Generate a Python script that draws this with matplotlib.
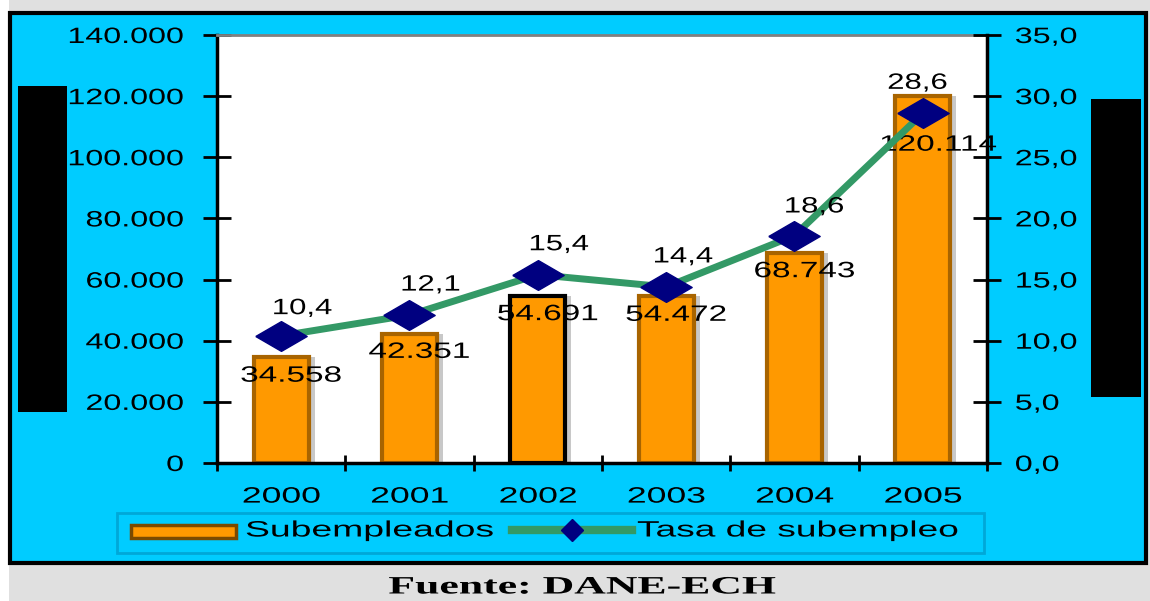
import numpy as np
import matplotlib
matplotlib.use('Agg')
import matplotlib.pyplot as plt
from matplotlib.patches import Rectangle
from matplotlib.lines import Line2D
from matplotlib.patheffects import AbstractPathEffect
from matplotlib.transforms import Affine2D

# data
years = ['2000', '2001', '2002', '2003', '2004', '2005']
subempleados = [34558, 42351, 54691, 54472, 68743, 120114]
tasa = [10.4, 12.1, 15.4, 14.4, 18.6, 28.6]
bar_labels = ['34.558', '42.351', '54.691', '54.472', '68.743', '120.114']
tasa_labels = ['10,4', '12,1', '15,4', '14,4', '18,6', '28,6']

plt.rcParams['font.family'] = ['Liberation Sans', 'DejaVu Sans']
fs = 16

cyan = '#00CCFF'
orange = '#FF9900'
brown = '#A86400'
green = '#339966'
navy = '#000080'


# the source picture is stretched sideways, so widen the glyphs too
class Stretch(AbstractPathEffect):
    def __init__(self, sx=1.5, anchor='center'):
        super().__init__()
        self.sx = sx
        self.anchor = anchor

    def draw_path(self, renderer, gc, tpath, affine, rgbFace=None):
        v = affine.transform(tpath.vertices)
        if len(v) == 0:
            return
        x0, x1 = v[:, 0].min(), v[:, 0].max()
        px = {'left': x0, 'center': (x0 + x1) / 2, 'right': x1}[self.anchor]
        t = affine + Affine2D().translate(-px, 0).scale(self.sx, 1).translate(px, 0)
        renderer.draw_path(gc, tpath, t, rgbFace)


fig = plt.figure(figsize=(11.5, 6.01), dpi=100)
fig.patch.set_facecolor('#E0E0E0')

def fx(px):
    return px / 1150

def fy(py):
    return (601 - py) / 601

# white strip at the left and cyan panel with black frame
fig.patches.append(Rectangle((0, 0), fx(9), 1, transform=fig.transFigure,
                             facecolor='white', edgecolor='none', zorder=-2))
fig.patches.append(Rectangle((fx(10), fy(563)), fx(1136), 550 / 601,
                             transform=fig.transFigure, facecolor=cyan,
                             edgecolor='black', linewidth=3, zorder=-1))

ax = fig.add_axes([fx(217), fy(463), fx(770), 428 / 601])
ax.set_facecolor('white')
x = np.arange(len(years))

# shadow then bars
ax.bar(x + 0.035, subempleados, width=0.45, color='#C8C8C8', zorder=1)
edges = [brown, brown, 'black', brown, brown, brown]
ax.bar(x, subempleados, width=0.43, color=orange, edgecolor=edges,
       linewidth=3, zorder=2)

ax.set_xlim(-0.5, 5.5)
ax.set_ylim(0, 140000)
yt = list(range(0, 140001, 20000))
ax.set_yticks(yt)
ax.set_yticklabels(['0' if v == 0 else f'{v:,}'.replace(',', '.') for v in yt],
                   fontsize=fs)
ax.tick_params(axis='y', direction='inout', length=20, width=2, pad=14)
ax.set_xticks(x)
ax.set_xticklabels(years, fontsize=fs)
ax.tick_params(axis='x', length=0, pad=17)
ax.set_xticks(np.arange(-0.5, 6, 1), minor=True)
ax.tick_params(axis='x', which='minor', direction='inout', length=12, width=2)
for t in ax.get_yticklabels():
    t.set_path_effects([Stretch(1.45, 'right')])
for t in ax.get_xticklabels():
    t.set_path_effects([Stretch(1.6, 'center')])

for s in ['left', 'bottom']:
    ax.spines[s].set_linewidth(2.5)
ax.spines['top'].set_color('#808080')
ax.spines['top'].set_linewidth(2)
ax.spines['right'].set_visible(False)

bar_offsets = [(7, -6), (7, -6), (7, -6), (7, -6), (7, -6), (11, -28)]
for xi, v, lab, off in zip(x, subempleados, bar_labels, bar_offsets):
    ax.annotate(lab, (xi, v), xytext=off, textcoords='offset points',
                ha='center', va='top', fontsize=fs, zorder=6,
                path_effects=[Stretch(1.5, 'center')])

ax2 = ax.twinx()
ax2.set_ylim(0, 35)
rt = np.arange(0, 36, 5)
ax2.set_yticks(rt)
ax2.set_yticklabels([f'{v:.1f}'.replace('.', ',') for v in rt], fontsize=fs)
ax2.tick_params(axis='y', direction='inout', length=20, width=2, pad=10)
for t in ax2.get_yticklabels():
    t.set_path_effects([Stretch(1.45, 'left')])
ax2.spines['right'].set_linewidth(2.5)
for s in ['left', 'top', 'bottom']:
    ax2.spines[s].set_visible(False)

diamond = [(-1, 0), (0, 0.58), (1, 0), (0, -0.58), (-1, 0)]
ax2.plot(x, tasa, color=green, linewidth=5, marker=diamond, markersize=37,
         markerfacecolor=navy, markeredgecolor=navy, zorder=4)
tasa_offsets = [(15, 12), (15, 14), (15, 14), (12, 14), (14, 13), (-4, 14)]
for xi, v, lab, off in zip(x, tasa, tasa_labels, tasa_offsets):
    ax2.annotate(lab, (xi, v), xytext=off, textcoords='offset points',
                 ha='center', va='bottom', fontsize=fs, zorder=6,
                 path_effects=[Stretch(1.4, 'center')])

# black boxes over axis titles
fig.patches.append(Rectangle((fx(18), fy(412)), fx(49), 326 / 601,
                             transform=fig.transFigure, facecolor='black', zorder=5))
fig.patches.append(Rectangle((fx(1091), fy(397)), fx(50), 298 / 601,
                             transform=fig.transFigure, facecolor='black', zorder=5))

# legend box, drawn by hand because of the stretched text
fig.patches.append(Rectangle((fx(117), fy(553)), fx(867), 40 / 601,
                             transform=fig.transFigure, facecolor=cyan,
                             edgecolor='#00A8D8', linewidth=2, zorder=1))
fig.patches.append(Rectangle((fx(131), fy(538)), fx(105), 13 / 601,
                             transform=fig.transFigure, facecolor=orange,
                             edgecolor='#7A4A00', linewidth=2.5, zorder=2))
fig.lines.append(Line2D([fx(512), fx(632)], [fy(530), fy(530)],
                        transform=fig.transFigure, color=green, linewidth=6,
                        zorder=2))
fig.lines.append(Line2D([fx(572)], [fy(530)], transform=fig.transFigure,
                        marker='D', markersize=11, color=navy, zorder=3))
fig.text(fx(245), fy(531), 'Subempleados', ha='left', va='center', fontsize=fs,
         path_effects=[Stretch(1.68, 'left')])
fig.text(fx(637), fy(531), 'Tasa de subempleo', ha='left', va='center',
         fontsize=fs, path_effects=[Stretch(1.67, 'left')])

fig.text(fx(582), fy(587), 'Fuente: DANE-ECH', ha='center', va='center',
         fontsize=18, fontweight='bold', family='Liberation Serif',
         path_effects=[Stretch(1.75, 'center')])

plt.savefig('out.png', dpi=100, facecolor=fig.get_facecolor())
